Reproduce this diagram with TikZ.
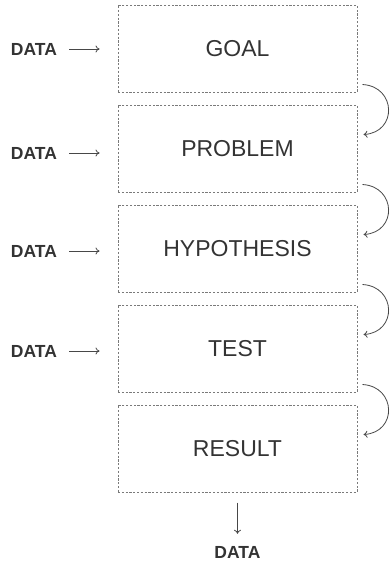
\documentclass[tikz,border=0pt]{standalone}
\usepackage{fontspec}
\setmainfont{Liberation Sans}
\usetikzlibrary{arrows.meta}
\definecolor{txt}{HTML}{333333}
\definecolor{dash}{HTML}{7A7A7A}
\begin{document}
\begin{tikzpicture}[x=1pt,y=-1pt,
  box/.style={draw=dash,line width=1pt,dash pattern=on 2.2pt off 1.6pt,
    minimum width=239pt,minimum height=87pt,inner sep=0pt,
    font=\fontsize{23}{26}\selectfont,text=txt},
  dat/.style={font=\bfseries\fontsize{17.5}{20}\selectfont,text=txt,inner sep=0pt},
  arr/.style={draw=txt!90,line width=0.8pt,-{To[length=4pt,width=7pt]}},
  carr/.style={draw=txt!90,line width=0.8pt,-{To[length=4pt,width=7pt]}}]
\useasboundingbox (0,0) rectangle (389,562);
\node[box] (b1) at (237.5,48.5) {GOAL};
\node[box] (b2) at (237.5,148.5) {PROBLEM};
\node[box] (b3) at (237.5,248.5) {HYPOTHESIS};
\node[box] (b4) at (237.5,348.5) {TEST};
\node[box] (b5) at (237.5,448.5) {RESULT};
\node[dat] (d1) at (34,49) {DATA};
\node[dat] (d2) at (34,153) {DATA};
\node[dat] (d3) at (34,251) {DATA};
\node[dat] (d4) at (34,351) {DATA};
\node[dat] (d5) at (237.5,552) {DATA};
\foreach \i in {1,2,3,4}{
  \draw[arr,shorten <=12pt,shorten >=18pt] (d\i.east) -- (d\i.east -| b\i.west);
}
\foreach \i/\j in {1/2,2/3,3/4,4/5}{
  \draw[carr] ([xshift=5pt,yshift=8pt]b\i.south east) .. controls +(34,2) and +(34,-2) .. ([xshift=6pt,yshift=-30pt]b\j.north east);
}
\draw[arr] ([yshift=-10pt]b5.south) -- ([yshift=12pt]d5.north);
\end{tikzpicture}
\end{document}
